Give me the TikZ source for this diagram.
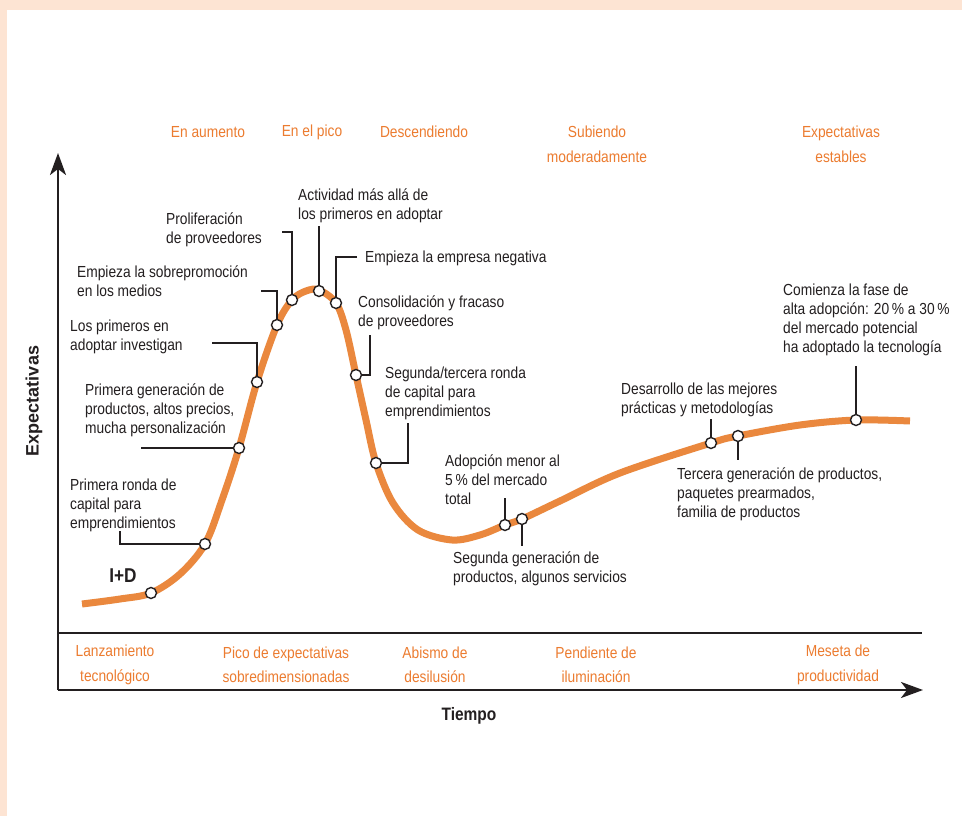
\documentclass[tikz,border=0pt]{standalone}
\usepackage{fontspec}
\setmainfont[FakeStretch=0.86]{Liberation Sans}
\newfontfamily\widefont{Liberation Sans}
\usetikzlibrary{arrows.meta}
\definecolor{peach}{RGB}{253,228,211}
\definecolor{curveor}{RGB}{234,136,62}
\definecolor{textor}{RGB}{236,124,48}
\definecolor{ink}{RGB}{35,31,32}
\begin{document}
\begin{tikzpicture}[x=1pt,y=-1pt,
  lbl/.style={font=\fontsize{16}{19}\selectfont, text=ink, align=left, anchor=west, inner sep=0pt, yshift=-2.5pt},
  phase/.style={font=\fontsize{16}{24.5}\selectfont, text=textor, align=center, inner sep=0pt, yshift=-1pt},
  mk/.style={circle, draw=ink, fill=white, line width=1.4pt, minimum size=11pt, inner sep=0pt},
  lead/.style={draw=ink, line width=2pt},
  axis/.style={draw=ink, line width=2.4pt},
  tip/.style={-{Stealth[length=22pt,width=16pt,inset=6pt]}}]
% background
\fill[peach] (0,0) rectangle (962,816);
\fill[white] (7,10) rectangle (962,816);
\useasboundingbox (0,0) rectangle (962,816);

% axes
\coordinate (yb) at (58,690);
\coordinate (yt) at (58,153);
\coordinate (xl) at (58,690);
\coordinate (xr) at (923,690);
\coordinate (ul) at (58,633);
\coordinate (ur) at (922,633);
\draw[axis] (ul) -- (ur);
\draw[axis, tip] (yb) -- (yt);
\draw[axis, tip] (xl) -- (xr);

\node[font=\widefont\fontsize{18}{20}\selectfont\bfseries, text=ink, rotate=90] (ylab) at (34,401) {Expectativas};
\node[font=\fontsize{18}{20}\selectfont\bfseries, text=ink] (xlab) at (469,716) {Tiempo};

% phase labels top
\node[phase] (t1) at (208,131) {En aumento};
\node[phase] (t2) at (312,131) {En el pico};
\node[phase] (t3) at (424,131) {Descendiendo};
\node[phase] (t4) at (597,143.5) {Subiendo\\moderadamente};
\node[phase] (t5) at (841,143.5) {Expectativas\\estables};

% phase labels bottom
\node[phase] (b1) at (115,664) {Lanzamiento\\tecnológico};
\node[phase] (b2) at (286,664) {Pico de expectativas\\sobredimensionadas};
\node[phase] (b3) at (435,664) {Abismo de\\desilusión};
\node[phase] (b4) at (596,664) {Pendiente de\\iluminación};
\node[phase] (b5) at (838,664) {Meseta de\\productividad};

% curve
\draw[curveor, line width=7pt, line cap=butt] plot[smooth, tension=0.55] coordinates {
 (82,604) (120,599) (151,593) (180,574) (205,544) (222,500) (239,448) (257,382)
 (277,325) (292,300) (306,291) (319,290) (336,303) (346,330) (356,375) (366,420)
 (376,463) (393,503) (418,530) (452,540) (480,535) (505,525) (522,519) (560,501)
 (620,473) (711,443) (738,436) (800,425) (856,420) (910,421)};

% markers
\node[mk] (m1) at (151,593) {};
\node[mk] (m2) at (205,544) {};
\node[mk] (m3) at (239,448) {};
\node[mk] (m4) at (257,382) {};
\node[mk] (m5) at (277,325) {};
\node[mk] (m6) at (292,300) {};
\node[mk] (m7) at (319,291) {};
\node[mk] (m8) at (336,303) {};
\node[mk] (m9) at (356,375) {};
\node[mk] (m10) at (376,463) {};
\node[mk] (m11) at (505,525) {};
\node[mk] (m12) at (522,519) {};
\node[mk] (m13) at (711,443) {};
\node[mk] (m14) at (738,436) {};
\node[mk] (m15) at (856,420) {};

% leader line ends
\coordinate (c2) at (120,531);
\coordinate (c3) at (141,448);
\coordinate (c4) at (212,343);
\coordinate (c5) at (261,291);
\coordinate (c6) at (282,232);
\coordinate (c7) at (319,226);
\coordinate (c8) at (357,257);
\coordinate (c9) at (370,335);
\coordinate (c10) at (408,423);
\coordinate (c11) at (505,498);
\coordinate (c12) at (522,546);
\coordinate (c13) at (711,419);
\coordinate (c14) at (738,460);
\coordinate (c15) at (856,366);

\draw[lead] (c2) |- (m2);
\draw[lead] (c3) -- (m3);
\draw[lead] (c4) -| (m4);
\draw[lead] (c5) -| (m5);
\draw[lead] (c6) -| (m6);
\draw[lead] (c7) -- (m7);
\draw[lead] (c8) -| (m8);
\draw[lead] (c9) |- (m9);
\draw[lead] (c10) |- (m10);
\draw[lead] (c11) -- (m11);
\draw[lead] (m12) -- (c12);
\draw[lead] (c13) -- (m13);
\draw[lead] (m14) -- (c14);
\draw[lead] (c15) -- (m15);

% texts
\node[font=\fontsize{20}{22}\selectfont\bfseries, text=ink] (rd) at (123,576) {I+D};
\node[lbl] (l2) at (70,503) {Primera ronda de\\capital para\\emprendimientos};
\node[lbl] (l3) at (85,408) {Primera generación de\\productos, altos precios,\\mucha personalización};
\node[lbl] (l4) at (70,334.5) {Los primeros en\\adoptar investigan};
\node[lbl] (l5) at (77,278.5) {Empieza la sobrepromoción\\en los medios};
\node[lbl] (l6) at (166,227) {Proliferación\\de proveedores};
\node[lbl] (l7) at (298,203) {Actividad más allá de\\los primeros en adoptar};
\node[lbl] (l8) at (365,256) {Empieza la empresa negativa};
\node[lbl] (l9) at (358,310.5) {Consolidación y fracaso\\de proveedores};
\node[lbl] (l10) at (385,391) {Segunda/tercera ronda\\de capital para\\emprendimientos};
\node[lbl] (l11) at (445,477.5) {Adopción menor al\\5\,\% del mercado\\total};
\node[lbl] (l12) at (453,566.5) {Segunda generación de\\productos, algunos servicios};
\node[lbl] (l13) at (621,397.5) {Desarrollo de las mejores\\prácticas y metodologías};
\node[lbl] (l14) at (677,492) {Tercera generación de productos,\\paquetes prearmados,\\familia de productos};
\node[lbl] (l15) at (783,317.5) {Comienza la fase de\\alta adopción: 20\,\% a 30\,\%\\del mercado potencial\\ha adoptado la tecnología};
\end{tikzpicture}
\end{document}
